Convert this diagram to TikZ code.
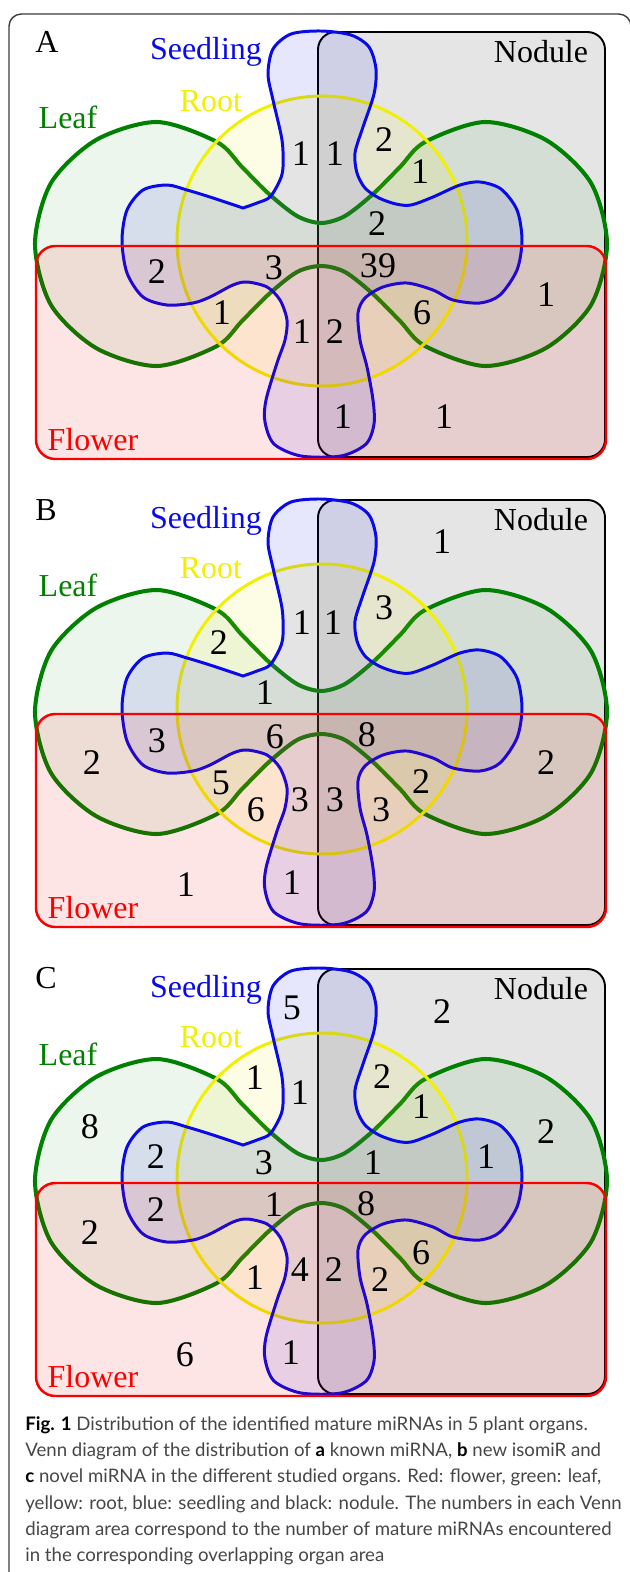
\documentclass[tikz,border=0pt]{standalone}
\usepackage{fontspec}
\setmainfont{Liberation Serif}
\newfontfamily\captionfont{Lato}
\usetikzlibrary{positioning}

\definecolor{leafgreen}{RGB}{0,128,0}
\definecolor{seedblue}{RGB}{10,10,230}
\definecolor{rootyellow}{RGB}{240,240,0}
\definecolor{flowerred}{RGB}{250,0,0}
\definecolor{framegray}{RGB}{60,60,60}
\definecolor{captiongray}{RGB}{70,70,70}

\begin{document}
\begin{tikzpicture}[
        x=0.02cm, y=-0.02cm,
        frame_box/.style={draw=framegray, line width=0.8pt, rounded corners=7pt},
        nodule_set/.style={draw=black, line width=1.1pt, fill=black, fill opacity=0.1, rounded corners=10pt},
        flower_set/.style={draw=flowerred, line width=1.4pt, fill=flowerred, fill opacity=0.1, rounded corners=11pt},
        leaf_set/.style={draw=leafgreen, line width=2.3pt, fill=leafgreen, fill opacity=0.07},
        root_set/.style={draw=rootyellow, line width=1.7pt, fill=rootyellow, fill opacity=0.1},
        seedling_set/.style={draw=seedblue, line width=1.7pt, fill=seedblue, fill opacity=0.1},
        area_count/.style={font=\fontsize{20.5}{20.5}\selectfont, inner sep=0pt},
        set_label/.style={font=\fontsize{18.2}{18.2}\selectfont, inner sep=0pt},
        panel_letter/.style={font=\fontsize{18.2}{18.2}\selectfont, inner sep=0pt},
        caption_text/.style={font=\captionfont\fontsize{10.6}{15}\selectfont, text=captiongray, align=left, inner sep=0pt},
        venn/.pic={
            % Nodule
            \draw[nodule_set] (-3,-212) rectangle (284,213);
            % Leaf
            \draw[leaf_set] plot[smooth cycle] coordinates {
                (0,-21) (24,-28) (52,-50) (79,-77) (104,-102) (164,-122) (225,-104) (270,-61) (286,0)
                (270,61) (225,104) (164,122) (104,102) (79,77) (52,50) (24,28) (0,22)
                (-24,28) (-52,50) (-79,77) (-104,102) (-164,122) (-225,104) (-270,61) (-286,0)
                (-270,-61) (-225,-104) (-164,-122) (-104,-102) (-79,-77) (-52,-50) (-24,-28)};
            % Root
            \draw[root_set] (1,-3) circle[radius=145];
            % Seedling
            \draw[seedling_set] plot[smooth] coordinates {
                (-78,-36) (-64,-41) (-51,-47) (-41,-64) (-38,-77) (-39,-104) (-48,-144) (-53,-170)
                (-48,-195) (-30,-210) (0,-213) (30,-209) (48,-197) (55,-175) (53,-150) (42,-117)
                (34,-91) (36,-71) (44,-56) (58,-46) (75,-40) (90,-39) (112,-47) (139,-59) (159,-62)
                (180,-55) (196,-34) (201,-4) (196,26) (179,51) (159,59) (132,56) (112,46) (86,39)
                (62,43) (44,54) (37,69) (39,96) (46,123) (52,156) (53,180) (45,200) (20,212)
                (-20,212) (-47,200) (-56,178) (-55,156) (-44,119) (-36,96) (-34,76) (-41,56)
                (-54,43) (-74,38) (-88,41) (-111,53) (-128,59) (-154,61) (-178,53) (-194,29)
                (-199,-4) (-194,-34) (-178,-54) (-154,-59) (-134,-54) (-111,-47) (-78,-36)} -- cycle;
            % Flower
            \draw[flower_set] (-285,2) rectangle (285,215);
        }
    ]

    \useasboundingbox (0,0) rectangle (629,1572);
    \draw[frame_box] (9,14) rectangle (631,1620);

    % Panel A: known miRNA
    \begin{scope}[shift={(321,244)}]
        \pic {venn};
        \node[panel_letter] (a_letter) at (-274,-202) {A};
        \node[set_label, text=seedblue] (a_seedling) at (-115,-192) {Seedling};
        \node[set_label] (a_nodule) at (220,-192) {Nodule};
        \node[set_label, text=rootyellow] (a_root) at (-110,-143) {Root};
        \node[set_label, text=leafgreen] (a_leaf) at (-253,-127) {Leaf};
        \node[set_label, text=flowerred] (a_flower) at (-228,196) {Flower};
        \foreach \px/\py/\num [count=\i] in {-20/-90/1, 14/-90/1, 63/-104/2, 99/-72/1, 56/-20/2,
                -164/28/2, -47/24/3, 57/22/39, 225/51/1, -99/69/1, 101/69/6, -19/88/1, 14/88/2,
                22/173/1, 123/173/1}
            \node[area_count] (a_count\i) at (\px,\py) {\num};
    \end{scope}

    % Panel B: new isomiR
    \begin{scope}[shift={(321,712)}]
        \pic {venn};
        \node[panel_letter] (b_letter) at (-275,-202) {B};
        \node[set_label, text=seedblue] (b_seedling) at (-115,-191) {Seedling};
        \node[set_label] (b_nodule) at (220,-192) {Nodule};
        \node[set_label, text=rootyellow] (b_root) at (-110,-144) {Root};
        \node[set_label, text=leafgreen] (b_leaf) at (-253,-127) {Leaf};
        \node[set_label, text=flowerred] (b_flower) at (-228,196) {Flower};
        \foreach \px/\py/\num [count=\i] in {121/-170/1, 63/-104/3, -19/-89/1, 12/-89/1, -102/-69/2,
                -56/-19/1, -46/25/6, 46/23/8, -164/29/3, -229/51/2, 225/51/2, -100/71/5, 100/70/2,
                -65/98/6, -21/88/3, 14/88/3, 60/98/3, -135/173/1, -29/171/1}
            \node[area_count] (b_count\i) at (\px,\py) {\num};
    \end{scope}

    % Panel C: novel miRNA
    \begin{scope}[shift={(321,1181)}]
        \pic {venn};
        \node[panel_letter] (c_letter) at (-275,-203) {C};
        \node[set_label, text=seedblue] (c_seedling) at (-115,-191) {Seedling};
        \node[set_label] (c_nodule) at (220,-192) {Nodule};
        \node[set_label, text=rootyellow] (c_root) at (-110,-144) {Root};
        \node[set_label, text=leafgreen] (c_leaf) at (-253,-127) {Leaf};
        \node[set_label, text=flowerred] (c_flower) at (-228,196) {Flower};
        \foreach \px/\py/\num [count=\i] in {-29/-173/5, 121/-169/2, -66/-103/1, 61/-104/2, -21/-88/1,
                100/-74/1, -231/-54/8, 225/-49/2, -165/-24/2, -57/-18/3, 52/-18/1, 165/-24/1,
                -47/24/1, 45/23/8, -165/29/2, -231/52/2, 100/72/6, -21/89/4, 13/89/2, -66/97/1,
                59/99/2, -136/174/6, -30/172/1}
            \node[area_count] (c_count\i) at (\px,\py) {\num};
    \end{scope}

    % Caption
    \node[caption_text, anchor=north west] (caption) at (25,1416) {%
        {\color{black}\textbf{Fig. 1}} Distribution of the identified mature miRNAs in 5 plant organs.\\
        Venn diagram of the distribution of {\color{black}\textbf{a}} known miRNA, {\color{black}\textbf{b}} new isomiR and\\
        {\color{black}\textbf{c}} novel miRNA in the different studied organs. Red: flower, green: leaf,\\
        yellow: root, blue: seedling and black: nodule. The numbers in each Venn\\
        diagram area correspond to the number of mature miRNAs encountered\\
        in the corresponding overlapping organ area};

\end{tikzpicture}
\end{document}
